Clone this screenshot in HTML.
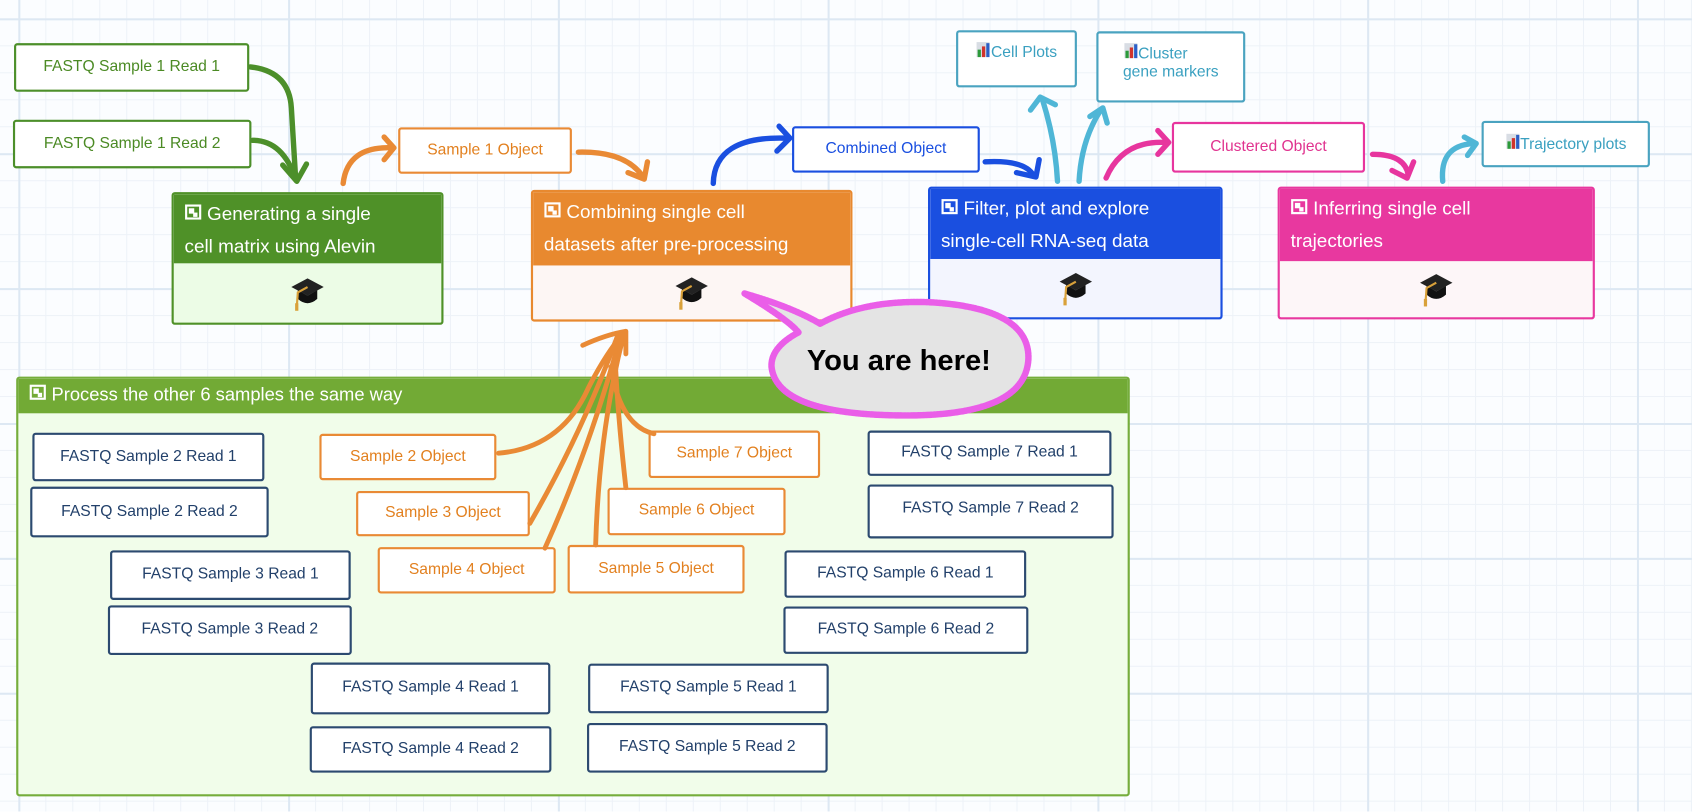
<!DOCTYPE html>
<html><head><meta charset="utf-8"><style>
html,body{margin:0;padding:0;width:1692px;height:812px;overflow:hidden;background:#fff;}
#c{position:absolute;left:0;top:0;width:1568px;height:752px;transform:scale(1.07908);transform-origin:0 0;
font-family:"Liberation Sans","DejaVu Sans",sans-serif;
background-color:#fbfdff;
background-image:
linear-gradient(to right,#dde8f3 2px,transparent 2px),
linear-gradient(to bottom,#dde8f3 2px,transparent 2px),
linear-gradient(to right,#edf2f8 1px,transparent 1px),
linear-gradient(to bottom,#edf2f8 1px,transparent 1px);
background-size:250px 125px,250px 125px,25px 25px,25px 25px;
background-position:17px 17px,17px 17px,17px 17px,17px 17px;}
.b{position:absolute;box-sizing:border-box;background:#fff;border:2px solid;border-radius:3px;font-size:14.5px;text-align:center;display:flex;align-items:center;justify-content:center;line-height:1.2;}
.g{border-color:#4c8f2a;color:#4b8a24;}
.o{border-color:#e98a35;color:#e2801f;}
.n{border-color:#2c4a70;color:#22406a;}
.t{border-color:#4aa3c0;color:#3aa0c0;align-items:flex-start;padding-top:8px;}
.card{position:absolute;box-sizing:border-box;border:2px solid;border-radius:3px;overflow:hidden;}
.card .h{color:#fff;font-size:17.5px;line-height:30px;padding:3px 10px 0 10px;box-sizing:border-box;}
.card .bd{position:absolute;left:0;right:0;bottom:0;display:flex;align-items:center;justify-content:center;}
svg.abs{position:absolute;left:0;top:0;}
</style></head><body><div id="c">

<!-- top row boxes -->
<div class="b g" style="left:13px;top:40px;width:218px;height:45px;">FASTQ Sample 1 Read 1</div>
<div class="b g" style="left:12px;top:111px;width:221px;height:45px;">FASTQ Sample 1 Read 2</div>
<div class="b o" style="left:369px;top:118px;width:161px;height:43px;">Sample 1 Object</div>
<div class="b" style="left:734px;top:117px;width:174px;height:43px;border-color:#1a4fe0;color:#1a4fe0;">Combined Object</div>
<div class="b" style="left:1086px;top:113px;width:179px;height:47px;border-color:#e7359e;color:#e0338f;">Clustered Object</div>
<div class="b t" style="left:886px;top:28px;width:112px;height:53px;"><span><svg width="14" height="15" viewBox="0 0 14 15"><rect x="1" y="1" width="12" height="14" fill="#d8dde4"/><rect x="2" y="8" width="3" height="7" fill="#2c9a3a"/><rect x="6" y="5" width="3" height="10" fill="#d0342c"/><rect x="10" y="2" width="3" height="13" fill="#2b5fc6"/></svg>Cell Plots</span></div>
<div class="b t" style="left:1016px;top:29px;width:138px;height:66px;"><span style="text-align:left;padding-left:0"><svg width="14" height="15" viewBox="0 0 14 15"><rect x="1" y="1" width="12" height="14" fill="#d8dde4"/><rect x="2" y="8" width="3" height="7" fill="#2c9a3a"/><rect x="6" y="5" width="3" height="10" fill="#d0342c"/><rect x="10" y="2" width="3" height="13" fill="#2b5fc6"/></svg>Cluster<br>gene markers</span></div>
<div class="b t" style="left:1373px;top:112px;width:156px;height:43px;align-items:center;padding-top:0"><span><svg width="14" height="15" viewBox="0 0 14 15"><rect x="1" y="1" width="12" height="14" fill="#d8dde4"/><rect x="2" y="8" width="3" height="7" fill="#2c9a3a"/><rect x="6" y="5" width="3" height="10" fill="#d0342c"/><rect x="10" y="2" width="3" height="13" fill="#2b5fc6"/></svg>Trajectory plots</span></div>

<!-- cards -->
<div class="card" style="left:159px;top:178px;width:252px;height:123px;border-color:#4f9128;background:#ecfce6;">
<div class="h" style="background:#4f9128;height:64px;"><svg width="16" height="15" viewBox="0 0 16 15"><rect x="1.5" y="1.5" width="13" height="12" fill="none" stroke="#fff" stroke-width="2"/><rect x="4" y="4" width="5" height="5" fill="#fff"/><rect x="8" y="8" width="4" height="4" fill="#fff"/></svg> Generating a single<br>cell matrix using Alevin</div>
<div class="bd" style="top:64px;"><svg width="32" height="34" viewBox="0 0 32 34"><path d="M16 3 L31 11 L16 19 L1 11Z" fill="#222"/><path d="M7 14 L7 22 Q16 30 25 22 L25 14 L16 19Z" fill="#111"/><path d="M16 11 L7 16 L6 30" stroke="#d9a13a" stroke-width="2" fill="none"/><rect x="4.5" y="26" width="3" height="7" fill="#d9a13a"/></svg></div></div>

<div class="card" style="left:492px;top:176px;width:298px;height:122px;border-color:#e8892f;background:#fdf6f4;">
<div class="h" style="background:#e8892f;height:68px;"><svg width="16" height="15" viewBox="0 0 16 15"><rect x="1.5" y="1.5" width="13" height="12" fill="none" stroke="#fff" stroke-width="2"/><rect x="4" y="4" width="5" height="5" fill="#fff"/><rect x="8" y="8" width="4" height="4" fill="#fff"/></svg> Combining single cell<br>datasets after pre-processing</div>
<div class="bd" style="top:68px;"><svg width="32" height="34" viewBox="0 0 32 34"><path d="M16 3 L31 11 L16 19 L1 11Z" fill="#222"/><path d="M7 14 L7 22 Q16 30 25 22 L25 14 L16 19Z" fill="#111"/><path d="M16 11 L7 16 L6 30" stroke="#d9a13a" stroke-width="2" fill="none"/><rect x="4.5" y="26" width="3" height="7" fill="#d9a13a"/></svg></div></div>

<div class="card" style="left:860px;top:173px;width:273px;height:123px;border-color:#1a4fe0;background:#f3f5fe;">
<div class="h" style="background:#1a4fe0;height:65px;"><svg width="16" height="15" viewBox="0 0 16 15"><rect x="1.5" y="1.5" width="13" height="12" fill="none" stroke="#fff" stroke-width="2"/><rect x="4" y="4" width="5" height="5" fill="#fff"/><rect x="8" y="8" width="4" height="4" fill="#fff"/></svg> Filter, plot and explore<br>single-cell RNA-seq data</div>
<div class="bd" style="top:65px;"><svg width="32" height="34" viewBox="0 0 32 34"><path d="M16 3 L31 11 L16 19 L1 11Z" fill="#222"/><path d="M7 14 L7 22 Q16 30 25 22 L25 14 L16 19Z" fill="#111"/><path d="M16 11 L7 16 L6 30" stroke="#d9a13a" stroke-width="2" fill="none"/><rect x="4.5" y="26" width="3" height="7" fill="#d9a13a"/></svg></div></div>

<div class="card" style="left:1184px;top:173px;width:294px;height:123px;border-color:#e8389f;background:#fdf6f8;">
<div class="h" style="background:#e8389f;height:67px;"><svg width="16" height="15" viewBox="0 0 16 15"><rect x="1.5" y="1.5" width="13" height="12" fill="none" stroke="#fff" stroke-width="2"/><rect x="4" y="4" width="5" height="5" fill="#fff"/><rect x="8" y="8" width="4" height="4" fill="#fff"/></svg> Inferring single cell<br>trajectories</div>
<div class="bd" style="top:67px;"><svg width="32" height="34" viewBox="0 0 32 34"><path d="M16 3 L31 11 L16 19 L1 11Z" fill="#222"/><path d="M7 14 L7 22 Q16 30 25 22 L25 14 L16 19Z" fill="#111"/><path d="M16 11 L7 16 L6 30" stroke="#d9a13a" stroke-width="2" fill="none"/><rect x="4.5" y="26" width="3" height="7" fill="#d9a13a"/></svg></div></div>

<!-- green panel -->
<div class="card" style="left:15px;top:349px;width:1032px;height:389px;border-color:#76ad3c;background:#f1fdea;">
<div class="h" style="background:#72aa35;height:32px;line-height:30px;padding-top:0;font-size:17px;"><svg width="16" height="15" viewBox="0 0 16 15"><rect x="1.5" y="1.5" width="13" height="12" fill="none" stroke="#fff" stroke-width="2"/><rect x="4" y="4" width="5" height="5" fill="#fff"/><rect x="8" y="8" width="4" height="4" fill="#fff"/></svg> Process the other 6 samples the same way</div></div>

<div class="b n" style="left:30px;top:401px;width:215px;height:45px;">FASTQ Sample 2 Read 1</div>
<div class="b n" style="left:28px;top:451px;width:221px;height:47px;">FASTQ Sample 2 Read 2</div>
<div class="b n" style="left:102px;top:510px;width:223px;height:46px;">FASTQ Sample 3 Read 1</div>
<div class="b n" style="left:100px;top:561px;width:226px;height:46px;">FASTQ Sample 3 Read 2</div>
<div class="b n" style="left:288px;top:614px;width:222px;height:48px;">FASTQ Sample 4 Read 1</div>
<div class="b n" style="left:287px;top:673px;width:224px;height:43px;">FASTQ Sample 4 Read 2</div>
<div class="b n" style="left:545px;top:615px;width:223px;height:46px;">FASTQ Sample 5 Read 1</div>
<div class="b n" style="left:544px;top:670px;width:223px;height:46px;">FASTQ Sample 5 Read 2</div>
<div class="b n" style="left:727px;top:510px;width:224px;height:44px;">FASTQ Sample 6 Read 1</div>
<div class="b n" style="left:726px;top:562px;width:227px;height:44px;">FASTQ Sample 6 Read 2</div>
<div class="b n" style="left:804px;top:399px;width:226px;height:42px;">FASTQ Sample 7 Read 1</div>
<div class="b n" style="left:804px;top:449px;width:228px;height:50px;align-items:flex-start;padding-top:12px;">FASTQ Sample 7 Read 2</div>

<div class="b o" style="left:296px;top:402px;width:164px;height:43px;">Sample 2 Object</div>
<div class="b o" style="left:330px;top:455px;width:161px;height:42px;">Sample 3 Object</div>
<div class="b o" style="left:350px;top:507px;width:165px;height:43px;">Sample 4 Object</div>
<div class="b o" style="left:526px;top:505px;width:164px;height:45px;">Sample 5 Object</div>
<div class="b o" style="left:563px;top:452px;width:165px;height:44px;">Sample 6 Object</div>
<div class="b o" style="left:601px;top:399px;width:159px;height:44px;">Sample 7 Object</div>

<svg class="abs" width="1568" height="752" viewBox="0 0 1568 752" fill="none" stroke-linecap="round" stroke-linejoin="round" stroke-width="5">
<!-- green -->
<g stroke="#4c8f2a"><path d="M232 62 Q268 66 270 100 L274 166"/><path d="M234 130 Q262 130 274 166"/><path d="M262 153 L275 168 L284 152"/></g>
<!-- orange top -->
<g stroke="#e98a35"><path d="M318 170 Q322 135 364 137"/><path d="M356 127 L365 137 L356 148"/>
<path d="M536 141 Q580 140 596 164"/><path d="M582 160 L597 166 L600 150"/></g>
<!-- blue -->
<g stroke="#1a4fe0"><path d="M661 170 Q662 126 728 128"/><path d="M722 117 L732 128 L720 140"/>
<path d="M913 150 Q950 148 958 163"/><path d="M942 160 L960 164 L963 148"/></g>
<!-- teal -->
<g stroke="#4fb6d6"><path d="M980 168 Q978 130 966 92"/><path d="M955 102 L964 90 L978 97"/>
<path d="M1000 168 Q1002 130 1020 102"/><path d="M1010 108 L1022 100 L1026 114"/>
<path d="M1337 168 Q1334 135 1365 133"/><path d="M1357 127 L1368 133 L1360 144"/></g>
<!-- pink -->
<g stroke="#e7359e"><path d="M1025 165 Q1040 130 1080 132"/><path d="M1073 121 L1083 132 L1073 143"/>
<path d="M1272 143 Q1302 143 1305 162"/><path d="M1290 158 L1304 165 L1310 150"/></g>
<!-- orange converging -->
<g stroke="#e98a35" stroke-width="4.5"><path d="M462 420 Q520 415 545 360 Q560 330 578 308"/>
<path d="M491 485 Q540 400 572 312"/>
<path d="M505 508 Q545 420 575 312"/>
<path d="M552 505 Q555 400 578 310"/>
<path d="M580 452 Q572 380 570 330"/>
<path d="M606 402 Q575 395 566 340"/>
<path d="M540 320 Q562 310 580 307 L580 328"/></g>
<!-- bubble -->
<path d="M690 272 Q735 285 760 300 Q800 278 860 280 Q955 285 953 333 Q950 385 840 385 Q720 385 715 340 Q714 322 740 308 Q730 296 690 272Z" fill="#e4e4e4" stroke="#ea5ee8" stroke-width="6" stroke-dasharray="2 1"/>
<text x="833" y="343" text-anchor="middle" font-family="Liberation Sans, sans-serif" font-weight="bold" font-size="27" fill="#000" stroke="none">You are here!</text>
</svg>
</div></body></html>
